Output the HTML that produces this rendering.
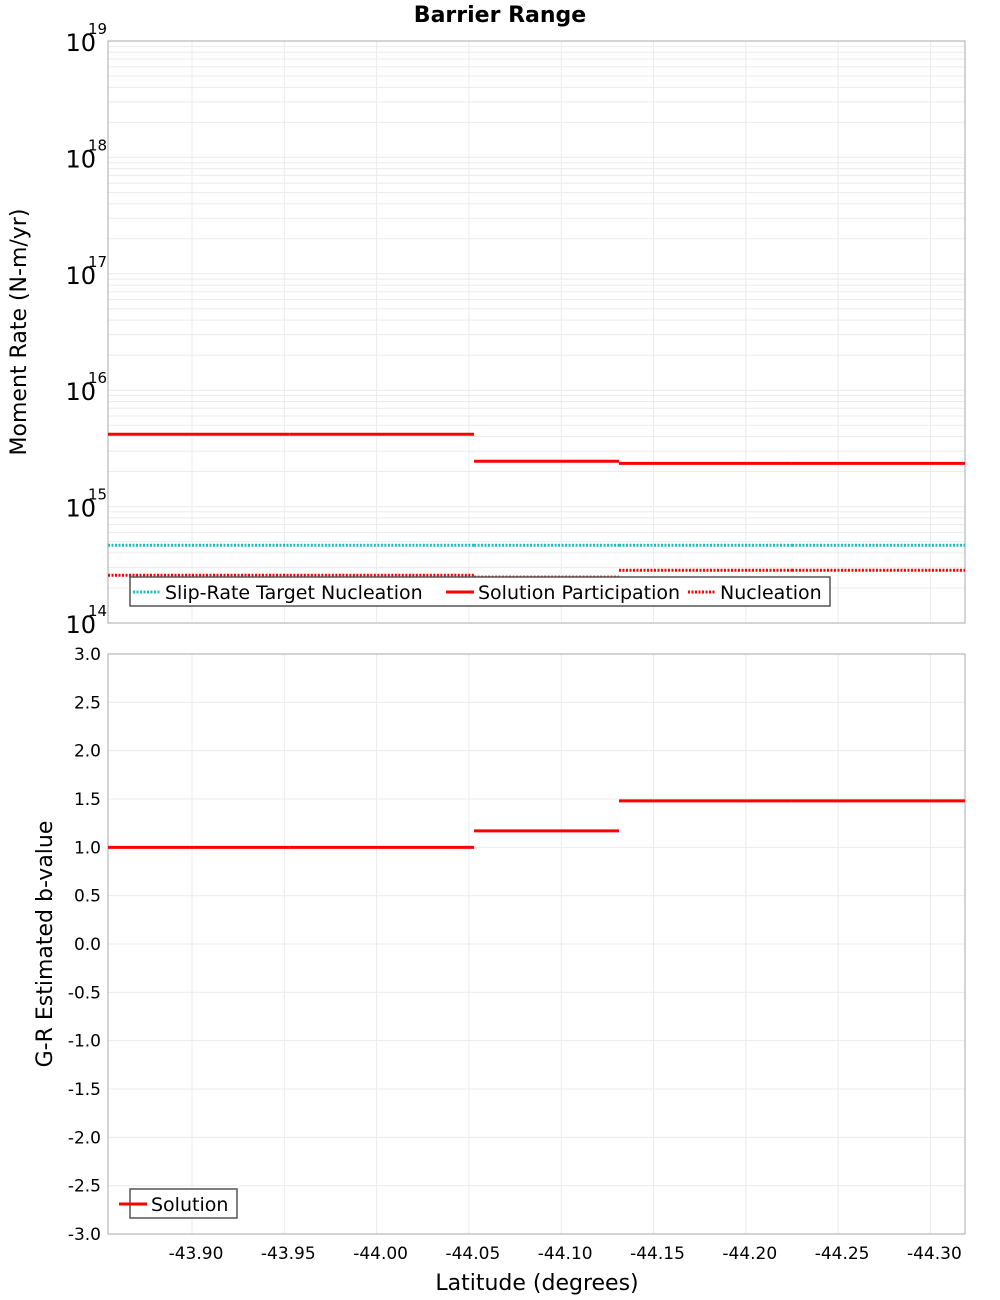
<!DOCTYPE html>
<html><head><meta charset="utf-8"><style>
body{margin:0;background:#fff}
svg{display:block;font-family:"DejaVu Sans","Liberation Sans",sans-serif}
</style></head><body>
<svg id="c" width="1000" height="1300" viewBox="0 0 1000 1300">
<text x="500" y="22" text-anchor="middle" font-size="22" font-weight="bold">Barrier Range</text>
<g id="topPanel"></g>
<g id="botPanel"></g>
<text transform="translate(26,332) rotate(-90)" text-anchor="middle" font-size="22">Moment Rate (N-m/yr)</text>
<text transform="translate(52,944) rotate(-90)" text-anchor="middle" font-size="22">G-R Estimated b-value</text>
<text x="537" y="1290" text-anchor="middle" font-size="22">Latitude (degrees)</text>
</svg>
<script>
const sectionEdges=[-43.8545,-43.953,-44.0528,-44.1313,-44.225,-44.3187];
const solutionParticipation=[4.18e15,4.18e15,2.45e15,2.35e15,2.35e15];
const targetNucleation=[4.65e14,4.65e14,4.65e14,4.65e14,4.65e14];
const nucleation=[2.57e14,2.57e14,2.48e14,2.84e14,2.84e14];
const bValues=[1.0,1.0,1.17,1.48,1.48];
const xTicks=[-43.90,-43.95,-44.00,-44.05,-44.10,-44.15,-44.20,-44.25,-44.30];
const logTicks=[14,15,16,17,18,19];
const bTicks=[-3,-2.5,-2,-1.5,-1,-0.5,0,0.5,1,1.5,2,2.5,3];

const NS='http://www.w3.org/2000/svg';
const L=108,R=965,T1=41,B1=623,T2=654,B2=1234;
const xs=v=>192+(-43.90-v)*1846;
const y1=v=>B1-(Math.log10(v)-14)*(B1-T1)/5;
const y2=v=>B2-(v+3)*(B2-T2)/6;
function el(p,t,a){const e=document.createElementNS(NS,t);for(const k in a)e.setAttribute(k,a[k]);p.appendChild(e);return e;}
const topG=document.getElementById('topPanel'),botG=document.getElementById('botPanel');

for(const [g,T,B] of [[topG,T1,B1],[botG,T2,B2]]){
  for(const t of xTicks){const l=el(g,'line',{x1:xs(t),x2:xs(t),y1:T,y2:B,stroke:'#ebebeb','stroke-width':1});
    
    }
}
for(let d=14;d<19;d++)for(let m=1;m<10;m++){const y=y1(m*Math.pow(10,d));
  const l=el(topG,'line',{x1:L,x2:R,y1:y,y2:y,stroke:'#ebebeb','stroke-width':1});
  
  }
for(const t of bTicks){const l=el(botG,'line',{x1:L,x2:R,y1:y2(t),y2:y2(t),stroke:'#ebebeb','stroke-width':1});
  
  }

for(const [g,T,B] of [[topG,T1,B1],[botG,T2,B2]]){const r=el(g,'rect',{x:L,y:T,width:R-L,height:B-T,fill:'none',stroke:'#aaa','stroke-width':1});
  
  }

for(const d of logTicks){const y=y1(Math.pow(10,d));
  const t=el(topG,'text',{x:96,y:y+10,'text-anchor':'end','font-size':24});t.textContent='10';
  
  
  const s=el(topG,'text',{x:88,y:y-7,'font-size':15});s.textContent=String(d);
  
  }
for(const v of bTicks){const t=el(botG,'text',{x:101,y:y2(v)+6,'text-anchor':'end','font-size':17});t.textContent=v.toFixed(1);
  
  }
for(const v of xTicks){const t=el(botG,'text',{x:xs(v)+4,y:1259,'text-anchor':'middle','font-size':17});t.textContent=v.toFixed(2);
  
  }

function steps(g,vals,yf,color,dash,name){
  for(let i=0;i<vals.length;i++){
    const a={x1:xs(sectionEdges[i]),x2:xs(sectionEdges[i+1]),y1:yf(vals[i]),y2:yf(vals[i]),stroke:color,'stroke-width':3};
    if(dash)a['stroke-dasharray']='2,1.5';
    const l=el(g,'line',a);
    
    
  }
}
steps(topG,targetNucleation,y1,'#1bbcbc',true,'target-nucleation-segment');
steps(topG,nucleation,y1,'#ff0000',true,'nucleation-segment');
steps(topG,solutionParticipation,y1,'#ff0000',false,'solution-participation-segment');
steps(botG,bValues,y2,'#ff0000',false,'b-value-segment');

function legend(g,x,y,w,items,name){
  const r=el(g,'rect',{x:x,y:y,width:w,height:29,fill:'#fff',stroke:'#555','stroke-width':1.5});
  
  
  for(const it of items){
    const a={x1:it[0],x2:it[0]+28,y1:y+15,y2:y+15,stroke:it[2],'stroke-width':3};
    if(it[3])a['stroke-dasharray']='2,1.5';
    const l=el(g,'line',a);
    
    
    const t=el(g,'text',{x:it[0]+32,y:y+22,'font-size':19});t.textContent=it[1];
    
    
  }
}
legend(topG,130,577,700,[[133,'Slip-Rate Target Nucleation','#1bbcbc',true],[446,'Solution Participation','#ff0000',false],[688,'Nucleation','#ff0000',true]],'moment-legend');
legend(botG,130,1189,107,[[119,'Solution','#ff0000',false]],'bvalue-legend');
</script>
</body></html>
